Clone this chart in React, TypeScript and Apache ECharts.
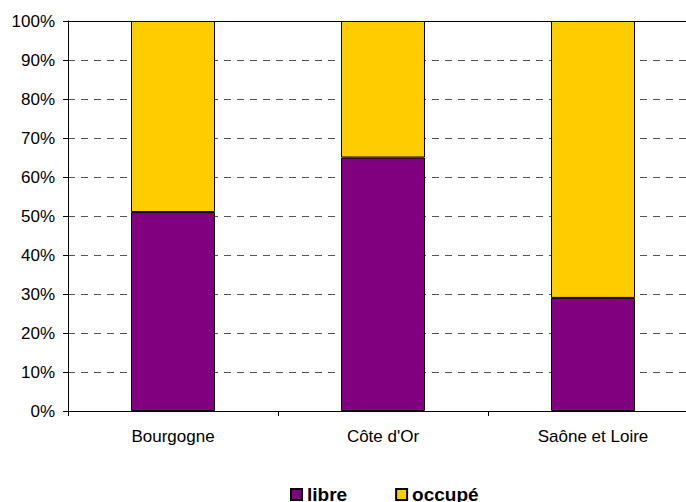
import React, { useEffect, useRef } from "react";
import * as echarts from "echarts";

const categories = ["Bourgogne", "Côte d'Or", "Saône et Loire"];
const libre = [51, 65, 29];
const occupe = [49, 35, 71];
const seriesNames = ["libre", "occupé"];

const FONT = "'Liberation Sans', Arial, sans-serif";

export default function App() {
  const ref = useRef<HTMLDivElement>(null);

  useEffect(() => {
    if (!ref.current) return;
    const chart = echarts.init(ref.current, null, { renderer: "svg" });
    chart.setOption({
      animation: false,
      backgroundColor: "#ffffff",
      textStyle: { fontFamily: FONT, color: "#000" },
      // plot area runs a little past the right edge of the visible window
      grid: { left: 68, top: 21, width: 630, height: 390, containLabel: false },
      legend: {
        left: 290,
        top: 485,
        padding: 0,
        itemWidth: 11,
        itemHeight: 11,
        itemGap: 48,
        icon: "rect",
        textStyle: { fontFamily: FONT, fontSize: 19, fontWeight: "bold", color: "#000" },
        data: seriesNames,
      },
      xAxis: [
        {
          type: "category",
          data: categories,
          axisLine: { lineStyle: { color: "#000", width: 1 } },
          axisTick: { show: true, length: 5, lineStyle: { color: "#000" } },
          axisLabel: { fontFamily: FONT, fontSize: 17, color: "#000", margin: 17 },
          splitLine: { show: false },
        },
        {
          type: "category",
          position: "top",
          data: categories,
          axisLine: { show: true, lineStyle: { color: "#000", width: 1 } },
          axisTick: { show: false },
          axisLabel: { show: false },
        },
      ],
      yAxis: {
        type: "value",
        min: 0,
        max: 100,
        interval: 10,
        axisLine: { show: true, lineStyle: { color: "#000", width: 1 } },
        axisTick: { show: true, length: 5, lineStyle: { color: "#000" } },
        axisLabel: {
          fontFamily: FONT,
          fontSize: 17,
          color: "#000",
          margin: 13,
          formatter: "{value}%",
        },
        splitLine: {
          show: true,
          lineStyle: { color: "#555", width: 1, type: [7, 6] },
        },
      },
      series: [
        {
          name: seriesNames[0],
          type: "bar",
          stack: "total",
          data: libre,
          barWidth: 84,
          itemStyle: { color: "#800080", borderColor: "#000", borderWidth: 1 },
        },
        {
          name: seriesNames[1],
          type: "bar",
          stack: "total",
          data: occupe,
          barWidth: 84,
          itemStyle: { color: "#FFCC00", borderColor: "#000", borderWidth: 1 },
        },
      ],
    });
    return () => chart.dispose();
  }, []);

  return (
    <div
      ref={ref}
      style={{ position: "fixed", left: 0, top: 0, width: 700, height: 502 }}
    />
  );
}
